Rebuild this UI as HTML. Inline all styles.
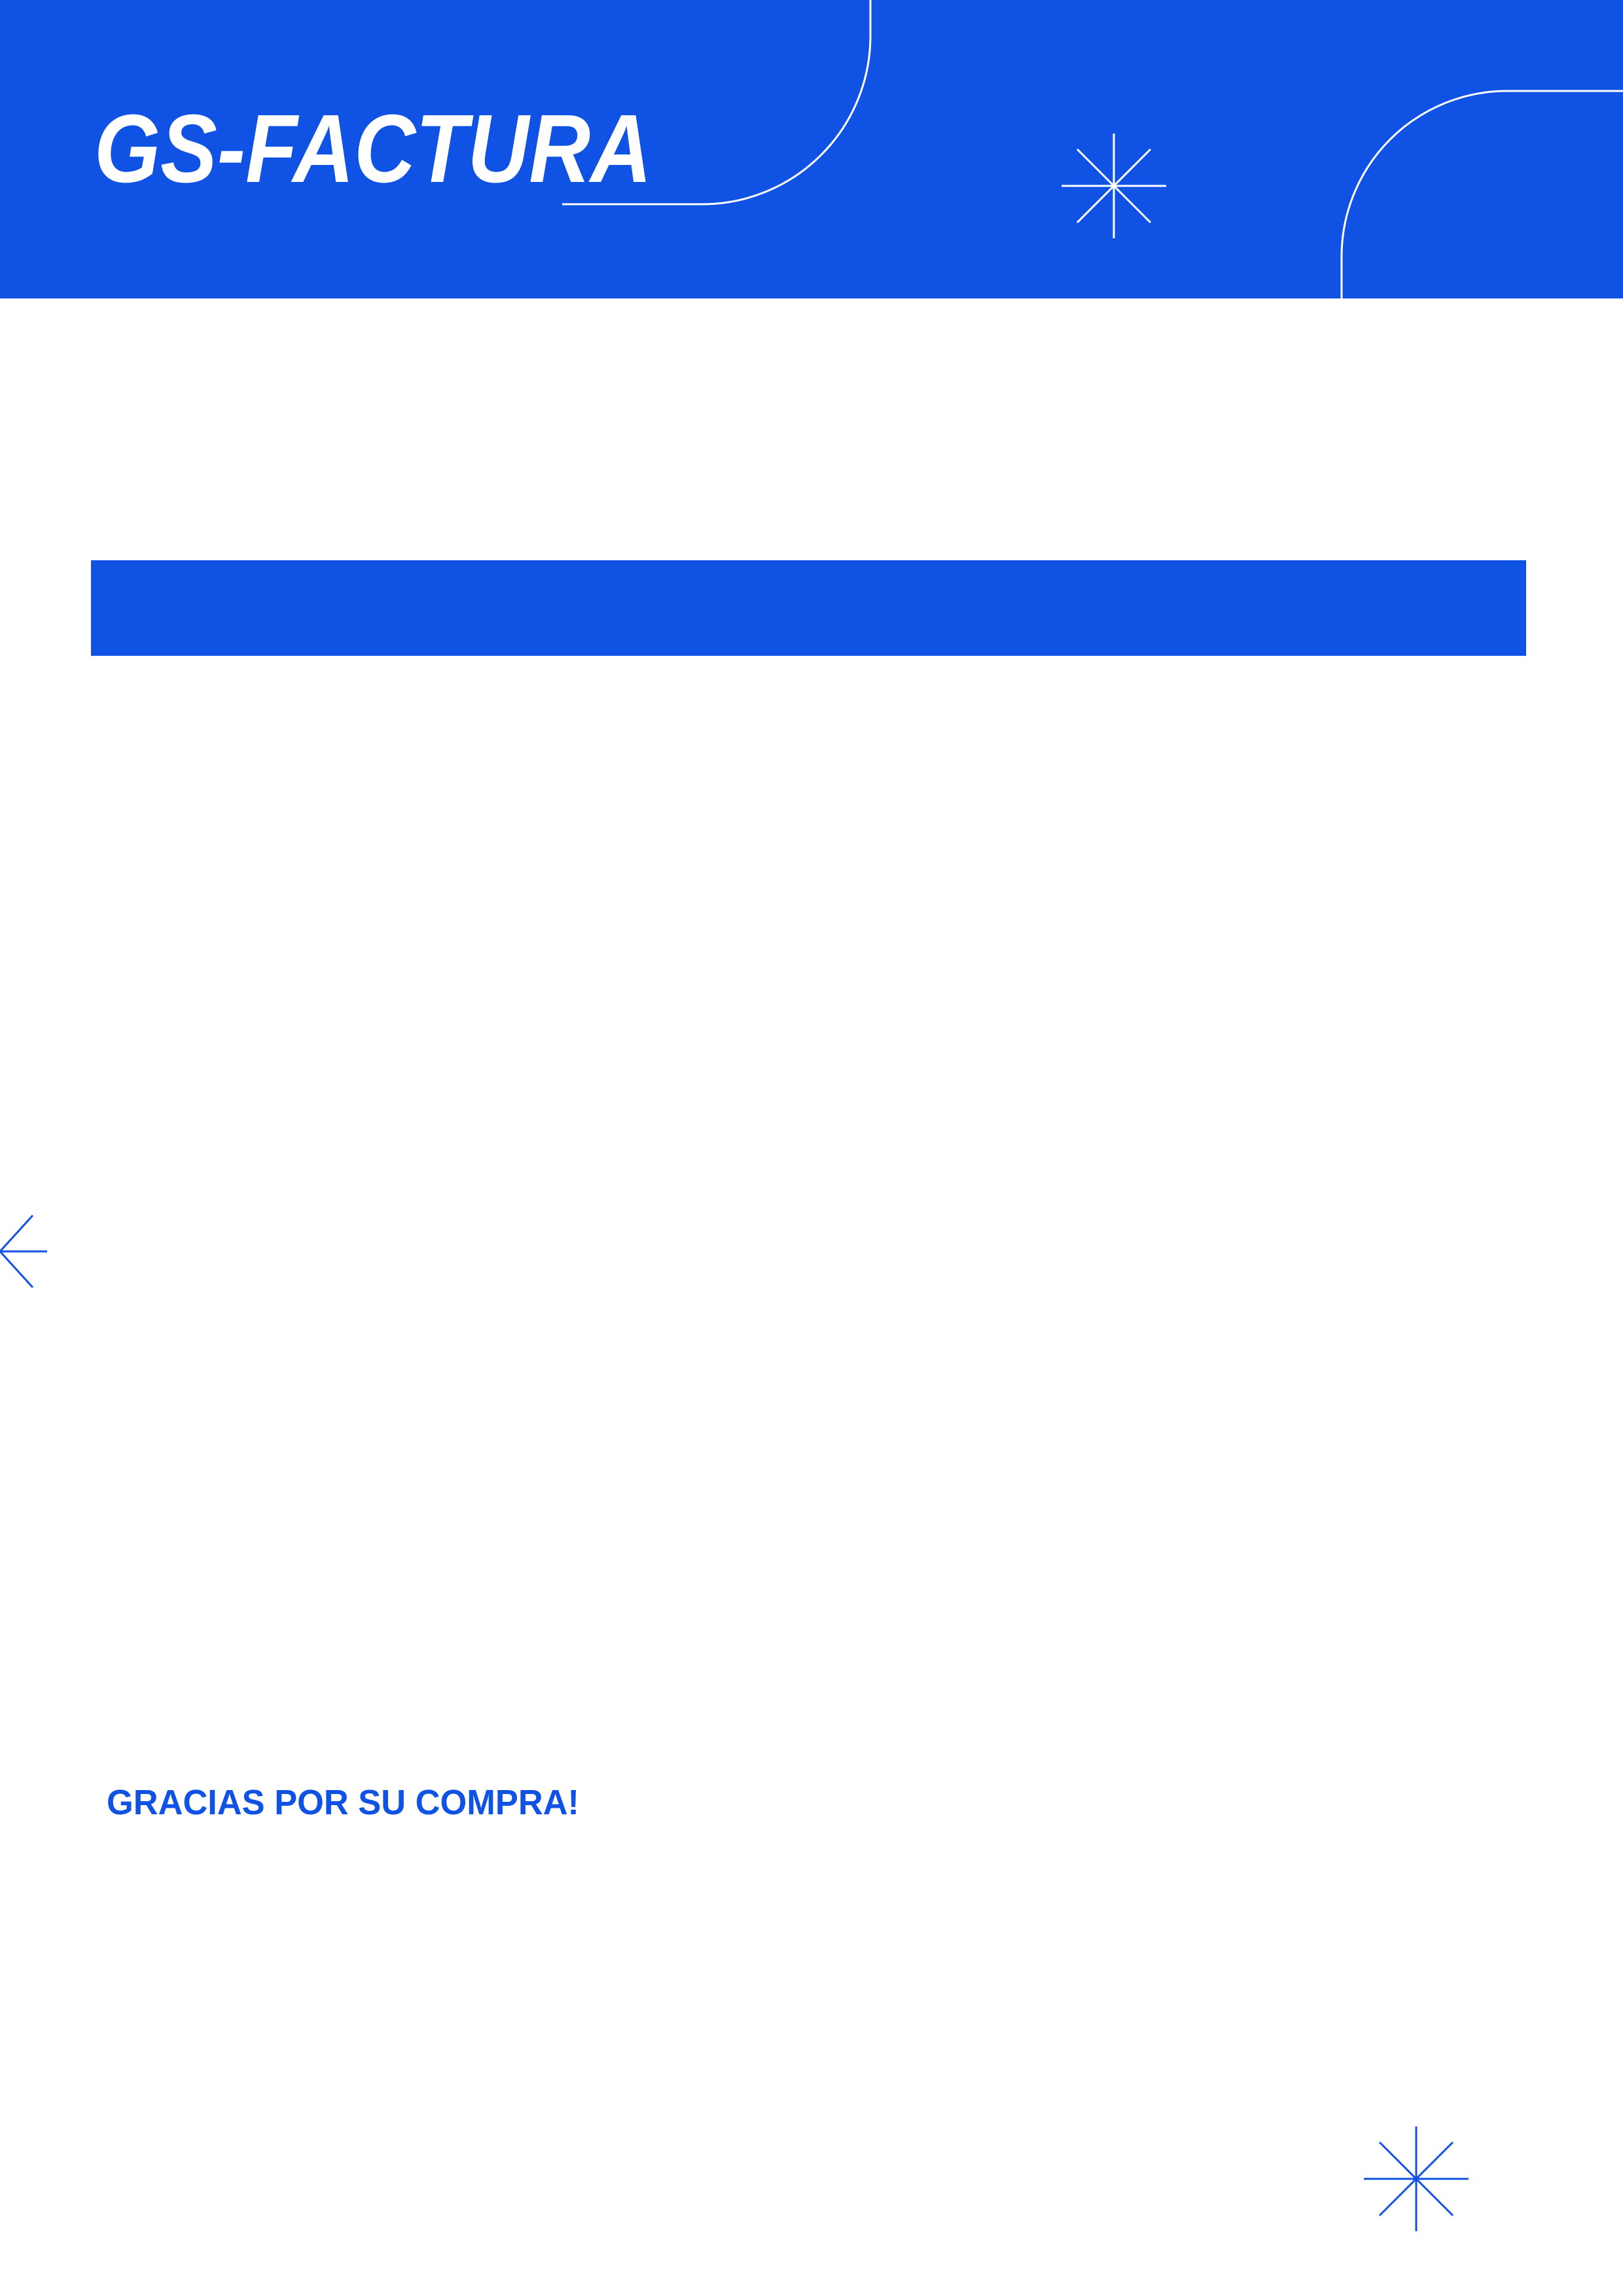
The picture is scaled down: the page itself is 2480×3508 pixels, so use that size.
<!DOCTYPE html>
<html><head><meta charset="utf-8"><style>
html,body{margin:0;padding:0;background:#fff;}
svg{display:block;}
</style></head><body>
<svg width="2480" height="3508" viewBox="0 0 2480 3508" xmlns="http://www.w3.org/2000/svg">
  <rect x="0" y="0" width="2480" height="456" fill="#1052e3"/>
  <text x="144" y="278" font-family="Liberation Sans, sans-serif" font-weight="bold" font-style="italic" font-size="148" fill="#fff" textLength="852" lengthAdjust="spacingAndGlyphs">GS-FACTURA</text>
  <path d="M1330 0 V55 A257 257 0 0 1 1073 312 H859" fill="none" stroke="#fff" stroke-width="3"/>
  <path d="M2480 139 H2303 A253 253 0 0 0 2050 392 V456" fill="none" stroke="#fff" stroke-width="3"/>
  <g stroke="#fff" stroke-width="3">
    <line x1="1702" y1="204" x2="1702" y2="364"/>
    <line x1="1622" y1="284" x2="1782" y2="284"/>
    <line x1="1646" y1="228" x2="1758" y2="340"/>
    <line x1="1758" y1="228" x2="1646" y2="340"/>
  </g>
  <rect x="139" y="856" width="2193" height="146" fill="#1052e3"/>
  <g stroke="#1052e3" stroke-width="3">
    <line x1="0" y1="1912" x2="72" y2="1912"/>
    <line x1="0" y1="1912" x2="50" y2="1857"/>
    <line x1="0" y1="1912" x2="50" y2="1967"/>
  </g>
  <text x="163" y="2772" font-family="Liberation Sans, sans-serif" font-weight="bold" font-size="54" fill="#1052e3" textLength="722" lengthAdjust="spacingAndGlyphs">GRACIAS POR SU COMPRA!</text>
  <g stroke="#1052e3" stroke-width="3">
    <line x1="2164" y1="3249" x2="2164" y2="3409"/>
    <line x1="2084" y1="3329" x2="2244" y2="3329"/>
    <line x1="2108" y1="3273" x2="2220" y2="3385"/>
    <line x1="2220" y1="3273" x2="2108" y2="3385"/>
  </g>
</svg>
</body></html>
